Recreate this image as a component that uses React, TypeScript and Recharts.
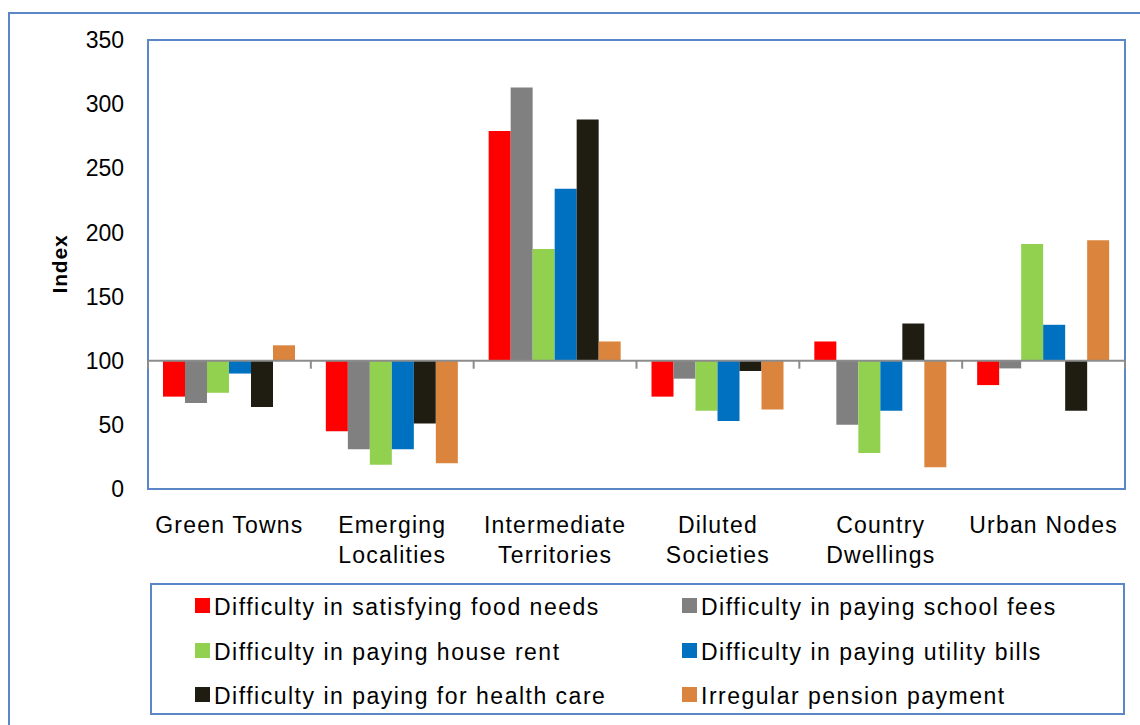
import React from 'react';
import { BarChart, Bar, XAxis, YAxis, ReferenceLine, ReferenceArea, Legend } from 'recharts';

// Index values per area type (100 = average)
const categories = [
  'Green Towns',
  'Emerging\nLocalities',
  'Intermediate\nTerritories',
  'Diluted\nSocieties',
  'Country\nDwellings',
  'Urban Nodes',
];
const foodNeeds = [72, 45, 279, 72, 115, 81];
const schoolFees = [67, 31, 313, 86, 50, 94];
const houseRent = [75, 19, 187, 61, 28, 191];
const utilityBills = [90, 31, 234, 53, 61, 128];
const healthCare = [64, 51, 288, 92, 129, 61];
const pension = [112, 20, 115, 62, 17, 194];
const yTicks = [0, 50, 100, 150, 200, 250, 300, 350];

const series = [
  { key: 'food', name: 'Difficulty in satisfying food needs', color: '#ff0000', values: foodNeeds },
  { key: 'school', name: 'Difficulty in paying school fees', color: '#808080', values: schoolFees },
  { key: 'rent', name: 'Difficulty in paying house rent', color: '#92d050', values: houseRent },
  { key: 'utility', name: 'Difficulty in paying utility bills', color: '#0070c0', values: utilityBills },
  { key: 'health', name: 'Difficulty in paying for health care', color: '#1f1d12', values: healthCare },
  { key: 'pension', name: 'Irregular pension payment', color: '#db843d', values: pension },
];

const BASE = 100;
const FONT = '"Liberation Sans", Arial, sans-serif';
const BLUE = '#5b87c6';

const data = categories.map((cat, i) => {
  const row: any = { name: cat };
  series.forEach(s => {
    row[s.key] = s.values[i];
  });
  return row;
});

const CategoryTick = (props: any) => {
  const { x, y, payload } = props;
  const lines = String(payload.value).split('\n');
  return (
    <text x={x} y={y} textAnchor="middle" fill="#000" fontSize={23} fontFamily={FONT} style={{ letterSpacing: '1.2px' }}>
      {lines.map((l, i) => (
        <tspan key={i} x={x} dy={i === 0 ? 42 : 30}>{l}</tspan>
      ))}
    </text>
  );
};

const ValueTick = (props: any) => {
  const { x, y, payload } = props;
  return (
    <text x={x} y={y} dy="0.355em" textAnchor="end" fill="#000" fontSize={23} fontFamily={FONT}>
      {payload.value}
    </text>
  );
};

// gray axis drawn at the 100 line, with ticks between categories
const BaselineShape = (props: any) => {
  const { x1, y1, x2 } = props;
  const n = categories.length;
  const marks = Array.from({ length: n + 1 }, (_, i) => x1 + ((x2 - x1) * i) / n);
  return (
    <g>
      <line x1={x1} y1={y1} x2={x2} y2={y1} stroke="#8c8c8c" strokeWidth={2} />
      {marks.map((mx, i) => (
        <line key={i} x1={mx} y1={y1} x2={mx} y2={y1 + 8} stroke="#8c8c8c" strokeWidth={2} />
      ))}
    </g>
  );
};

const LegendBox = () => {
  const cols = [43, 530];
  const rows = [13, 58, 102];
  return (
    <div style={{ position: 'relative', width: '100%', height: '100%' }}>
      {series.map((s, i) => (
        <div
          key={s.key}
          style={{
            position: 'absolute',
            left: cols[i % 2],
            top: rows[Math.floor(i / 2)],
            height: 15,
            display: 'flex',
            alignItems: 'center',
            whiteSpace: 'nowrap',
          }}
        >
          <span style={{ width: 15, height: 15, background: s.color, display: 'inline-block', marginRight: 4 }} />
          <span style={{ fontSize: 23, fontFamily: FONT, letterSpacing: '1.5px', color: '#000', lineHeight: '15px', position: 'relative', top: 2 }}>
            {s.name}
          </span>
        </div>
      ))}
    </div>
  );
};

export default function App() {
  return (
    <div style={{ position: 'relative', width: 1140, height: 725, background: '#fff' }}>
      <style>{'body{margin:0;overflow:hidden;}'}</style>
      <div
        style={{
          position: 'absolute',
          left: 8,
          top: 12,
          width: 1150,
          height: 740,
          border: `2px solid ${BLUE}`,
          boxSizing: 'border-box',
        }}
      />
      <div style={{ position: 'absolute', left: 0, top: 0 }}>
        <BarChart
          width={1140}
          height={725}
          data={data}
          margin={{ top: 40, right: 15, bottom: 10, left: 0 }}
          barSize={22}
          barGap={0}
        >
          <XAxis
            dataKey="name"
            axisLine={false}
            tickLine={false}
            tickSize={0}
            tick={<CategoryTick />}
            interval={0}
            height={94}
          />
          <YAxis
            domain={[0, 350]}
            ticks={yTicks}
            width={148}
            axisLine={false}
            tickLine={false}
            tickSize={0}
            tickMargin={24}
            tick={<ValueTick />}
            label={{
              content: () => (
                <text x={67} y={264} transform="rotate(-90 67 264)" textAnchor="middle" fontSize={21} fontWeight="bold" fontFamily={FONT} fill="#000" style={{ letterSpacing: '0.8px' }}>
                  Index
                </text>
              ),
            }}
          />
          {/* plot area frame */}
          <ReferenceArea y1={0} y2={350} fill="none" stroke={BLUE} strokeWidth={2} fillOpacity={0} />
          {series.map(s => (
            <Bar
              key={s.key}
              name={s.name}
              dataKey={(d: any) => [Math.min(BASE, d[s.key]), Math.max(BASE, d[s.key])]}
              fill={s.color}
              isAnimationActive={false}
            />
          ))}
          <ReferenceLine y={BASE} shape={<BaselineShape />} />
          <Legend
            verticalAlign="bottom"
            content={<LegendBox />}
            wrapperStyle={{
              left: 150,
              bottom: 10,
              width: 975,
              height: 132,
              border: `2px solid ${BLUE}`,
              boxSizing: 'border-box',
              background: '#fff',
            }}
          />
        </BarChart>
      </div>
    </div>
  );
}
